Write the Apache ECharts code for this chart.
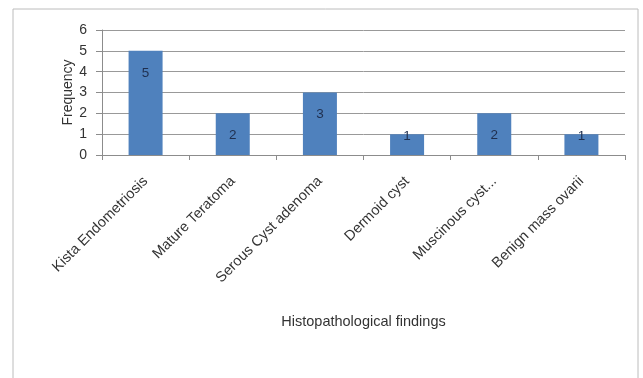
<!DOCTYPE html>
<html>
<head>
<meta charset="utf-8">
<script src="https://cdn.jsdelivr.net/npm/echarts@6/dist/echarts.min.js"></script>
<style>
html, body { margin: 0; padding: 0; background: #fff; }
#chart { width: 643px; height: 378px; }
</style>
</head>
<body>
<div id="chart"></div>
<script>
// categories and counts
var categories = ['Kista Endometriosis', 'Mature Teratoma', 'Serous Cyst adenoma',
	'Dermoid cyst', 'Muscinous cyst...', 'Benign mass ovarii'];
var frequency = [5, 2, 3, 1, 2, 1];
var yTicks = [0, 1, 2, 3, 4, 5, 6];

var myChart = echarts.init(document.getElementById('chart'));

// short bars get the label pushed up to the top edge, like the original
var barData = frequency.map(function(v) {
	return {
		value : v,
		label : { distance : v < 2 ? -5 : 15 }
	};
});

var option = {
	animation : false,
	textStyle : { fontFamily : 'Liberation Sans' },
	// outer frame of the chart area
	graphic : [ {
		type : 'rect',
		shape : { x : 13, y : 9, width : 625, height : 380 },
		style : { fill : 'none', stroke : '#bcbcbc', lineWidth : 1 }
	} ],
	grid : {
		left : 102,
		right : 18,
		top : 30,
		bottom : 223
	},
	xAxis : [ {
		type : 'category',
		data : categories,
		name : 'Histopathological findings',
		nameLocation : 'middle',
		nameGap : 159,
		nameMoveOverlap : false,
		nameTextStyle : { fontSize : 14.5, color : '#333' },
		axisLine : { lineStyle : { color : '#8c8c8c' } },
		axisTick : { show : true, length : 5, lineStyle : { color : '#8c8c8c' } },
		axisLabel : { rotate : 45, fontSize : 14.5, color : '#333', margin : 24, interval : 0 }
	} ],
	yAxis : [ {
		type : 'value',
		min : yTicks[0],
		max : yTicks[yTicks.length - 1],
		interval : 1,
		name : 'Frequency',
		nameLocation : 'middle',
		nameGap : 27,
		nameMoveOverlap : false,
		nameTextStyle : { fontSize : 14, color : '#333' },
		axisLine : { show : true, lineStyle : { color : '#8c8c8c' } },
		axisTick : { show : true, length : 6, lineStyle : { color : '#8c8c8c' } },
		axisLabel : { fontSize : 14, color : '#333', margin : 15 },
		splitLine : { lineStyle : { color : '#999' } }
	} ],
	series : [ {
		name : 'Frequency',
		type : 'bar',
		data : barData,
		barWidth : 34,
		itemStyle : { color : '#4f81bd' },
		label : {
			show : true,
			position : 'insideTop',
			fontSize : 13.5,
			color : '#1f2f4f'
		}
	} ]
};
myChart.setOption(option);
</script>
</body>
</html>
